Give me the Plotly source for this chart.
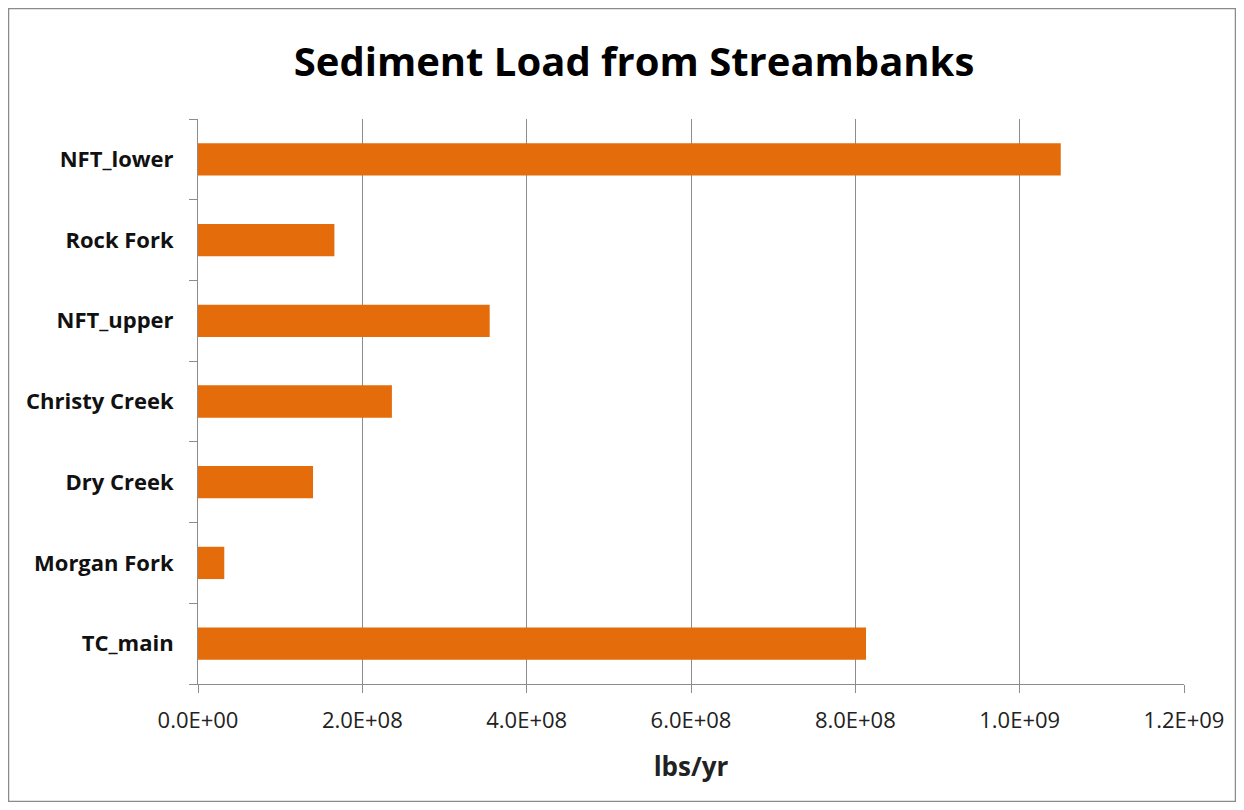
import plotly.graph_objects as go

categories = ["TC_main", "Morgan Fork", "Dry Creek", "Christy Creek", "NFT_upper", "Rock Fork", "NFT_lower"]
loads = [8.13e8, 3.2e7, 1.40e8, 2.36e8, 3.55e8, 1.66e8, 1.05e9]
x_tick_vals = [0, 2e8, 4e8, 6e8, 8e8, 1.0e9, 1.2e9]
x_tick_text = ["0.0E+00", "2.0E+08", "4.0E+08", "6.0E+08", "8.0E+08", "1.0E+09", "1.2E+09"]

W, H = 1228, 794
L, R, T, B = 190, 52, 111, 118
PW, PH = W - L - R, H - T - B

fig = go.Figure(go.Bar(
    x=loads, y=categories, orientation="h",
    marker=dict(color="#E46C0A", line=dict(width=0)),
    width=0.4,
))

fig.update_layout(
    width=W, height=H,
    margin=dict(l=L, r=R, t=T, b=B, pad=0),
    paper_bgcolor="white", plot_bgcolor="white",
    showlegend=False,
    title=dict(text="<b>Sediment Load from Streambanks</b>", x=626 / W, xanchor="center",
               y=1 - 54 / H, yanchor="middle",
               font=dict(family="Open Sans, Liberation Sans, sans-serif", size=40, color="#000")),
    font=dict(family="Open Sans, Liberation Sans, sans-serif", color="#222"),
)

fig.update_xaxes(
    range=[0, 1.2e9], tickvals=x_tick_vals, ticktext=x_tick_text,
    showgrid=True, gridcolor="#8c8c8c", gridwidth=1,
    showline=True, linecolor="#8c8c8c", linewidth=1,
    ticks="outside", ticklen=8, tickcolor="#8c8c8c",
    tickfont=dict(size=22, color="#222"), ticklabelstandoff=9,
    zeroline=False,
    title=dict(text="<b>lbs/yr</b>", font=dict(size=26, color="#222"), standoff=24),
)
fig.update_yaxes(
    categoryorder="array", categoryarray=categories,
    showline=True, linecolor="#8c8c8c", linewidth=1,
    ticks="outside", ticklen=8, tickcolor="#8c8c8c", tickson="boundaries",
    tickfont=dict(size=22, color="#111", weight="bold"), ticklabelstandoff=19,
    showgrid=False,
)

# outer chart border (just inside the figure edges)
fig.add_shape(type="rect", xref="paper", yref="paper",
              x0=(0.5 - L) / PW, x1=(W - 0.5 - L) / PW,
              y0=(T + PH - (H - 0.5)) / PH, y1=(T + PH - 0.5) / PH,
              line=dict(color="#8a8a8a", width=1.5), fillcolor="rgba(0,0,0,0)", layer="below")

fig.write_html("out.html")
